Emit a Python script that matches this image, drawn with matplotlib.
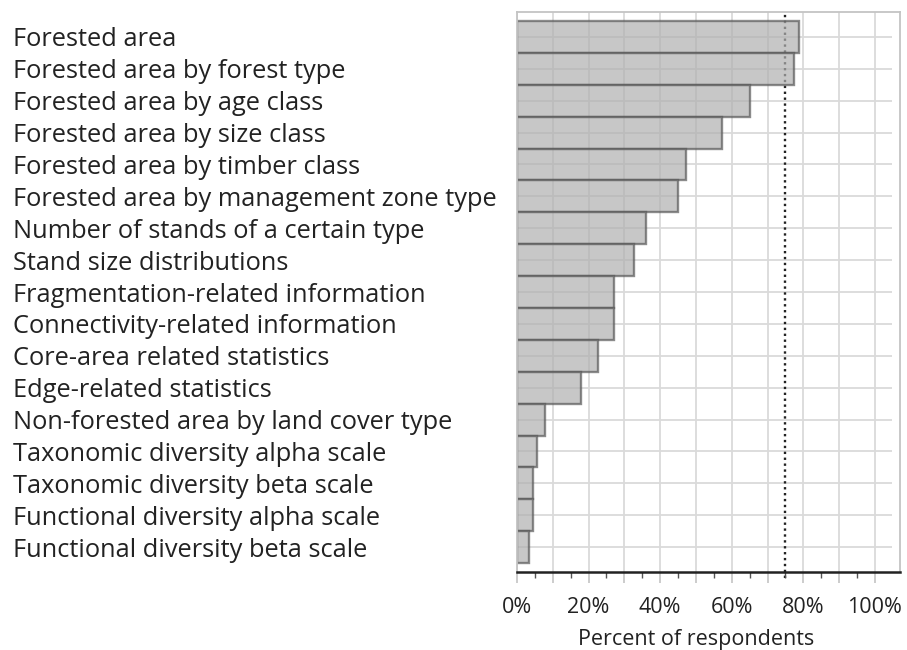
import numpy as np
import matplotlib
matplotlib.use("Agg")
import matplotlib.pyplot as plt
from matplotlib.ticker import FixedLocator, FixedFormatter

plt.rcParams['font.family'] = ['Open Sans', 'DejaVu Sans']

categories = [
    "Forested area",
    "Forested area by forest type",
    "Forested area by age class",
    "Forested area by size class",
    "Forested area by timber class",
    "Forested area by management zone type",
    "Number of stands of a certain type",
    "Stand size distributions",
    "Fragmentation-related information",
    "Connectivity-related information",
    "Core-area related statistics",
    "Edge-related statistics",
    "Non-forested area by land cover type",
    "Taxonomic diversity alpha scale",
    "Taxonomic diversity beta scale",
    "Functional diversity alpha scale",
    "Functional diversity beta scale",
]
percent = [78.7, 77.5, 65.2, 57.3, 47.2, 44.9, 36.0, 32.6, 27.0, 27.0,
           22.5, 18.0, 7.9, 5.6, 4.5, 4.5, 3.4]
reference_line = 75
major_ticks = [0, 10, 20, 30, 40, 50, 60, 70, 80, 90, 100]
tick_labels = ["0%", "", "20%", "", "40%", "", "60%", "", "80%", "", "100%"]
minor_ticks = [5, 15, 25, 35, 45, 55, 65, 75, 85, 95]

fig = plt.figure(figsize=(9.07, 6.5), dpi=100)
ax = fig.add_axes([0.570, 0.1205, 0.4223, 0.861])

y = np.arange(len(categories))
grid_c = "#dadada"
for x in major_ticks:
    ax.axvline(x, color=grid_c, lw=1.3, zorder=0)
ax.hlines(y, 0, 104.7, color=grid_c, lw=1.3, zorder=0)
ax.axvline(reference_line, color="#222222", lw=1.7, ls=(0, (1, 1.5)), zorder=1,
           ymin=-0.012, clip_on=False)

ax.barh(y, percent, height=1.0, color="#b0b0b0", alpha=0.7,
        edgecolor="#5a5a5a", linewidth=1.7, zorder=2)

ax.set_xlim(0, 107)
ax.set_ylim(16.77, -0.78)

ax.xaxis.set_major_locator(FixedLocator(major_ticks))
ax.xaxis.set_major_formatter(FixedFormatter(tick_labels))
ax.xaxis.set_minor_locator(FixedLocator(minor_ticks))
ax.tick_params(axis="x", which="major", length=8, width=1.3, color="#c8c8c8",
               labelsize=15.5, labelcolor="#222222", pad=10)
ax.tick_params(axis="x", which="minor", length=4, width=1.0, color="#555555")

ax.set_yticks(y)
ax.set_yticklabels(categories, fontsize=18.3, color="#222222")
ax.tick_params(axis="y", length=0, pad=362.9)
for lbl in ax.get_yticklabels():
    lbl.set_horizontalalignment("left")

for side in ["top", "right", "left"]:
    ax.spines[side].set_color("#c4c4c4")
    ax.spines[side].set_linewidth(1.3)
ax.spines["bottom"].set_color("#222222")
ax.spines["bottom"].set_linewidth(1.8)

ax.text(50, -0.103, "Percent of respondents", transform=ax.get_xaxis_transform(),
        ha="center", va="top", fontsize=15.5, color="#222222")

fig.savefig("out.png", dpi=100)
